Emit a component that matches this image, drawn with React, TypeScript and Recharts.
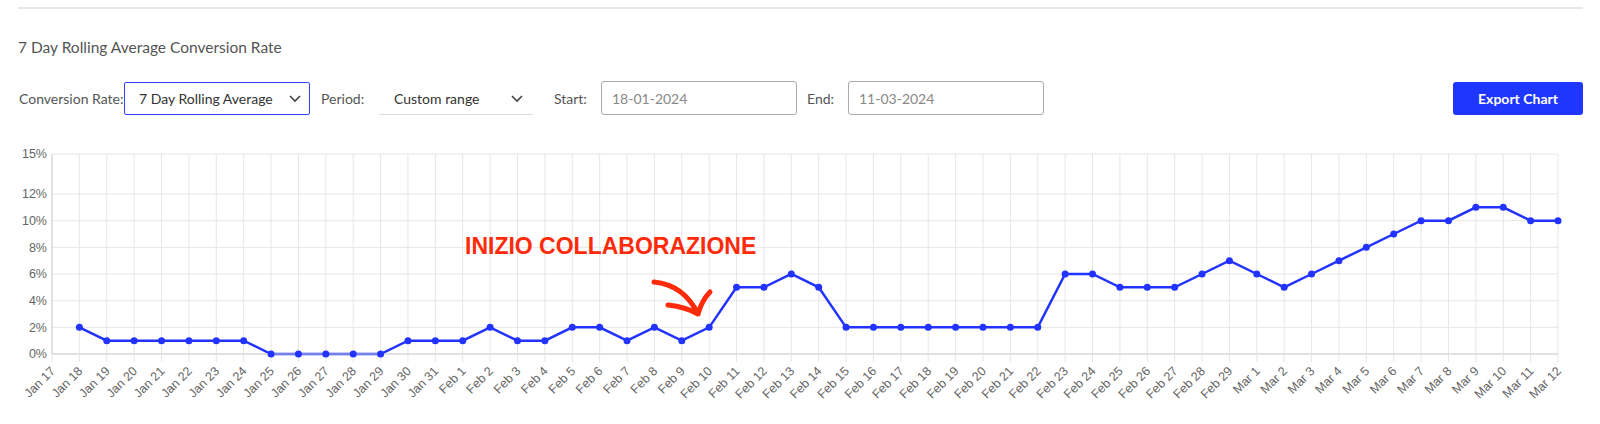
import React from "react";
import { LineChart, Line, XAxis, YAxis, CartesianGrid } from "recharts";

// categorie (giorni) e valori del tasso di conversione (%)
const days = [
  "Jan 17", "Jan 18", "Jan 19", "Jan 20", "Jan 21", "Jan 22", "Jan 23", "Jan 24",
  "Jan 25", "Jan 26", "Jan 27", "Jan 28", "Jan 29", "Jan 30", "Jan 31",
  "Feb 1", "Feb 2", "Feb 3", "Feb 4", "Feb 5", "Feb 6", "Feb 7", "Feb 8", "Feb 9",
  "Feb 10", "Feb 11", "Feb 12", "Feb 13", "Feb 14", "Feb 15", "Feb 16", "Feb 17",
  "Feb 18", "Feb 19", "Feb 20", "Feb 21", "Feb 22", "Feb 23", "Feb 24", "Feb 25",
  "Feb 26", "Feb 27", "Feb 28", "Feb 29",
  "Mar 1", "Mar 2", "Mar 3", "Mar 4", "Mar 5", "Mar 6", "Mar 7", "Mar 8", "Mar 9",
  "Mar 10", "Mar 11", "Mar 12",
];

const rate: (number | null)[] = [
  null, 2, 1, 1, 1, 1, 1, 1, 0, 0, 0, 0, 0, 1, 1,
  1, 2, 1, 1, 2, 2, 1, 2, 1, 2, 5, 5, 6, 5, 2, 2, 2, 2, 2, 2, 2, 2, 6, 6, 5, 5, 5, 6, 7,
  6, 5, 6, 7, 8, 9, 10, 10, 11, 11, 10, 10,
];

const yTicks = [0, 2, 4, 6, 8, 10, 12, 15];

const chartData = days.map((d, i) => ({ day: d, rate: rate[i] }));

const BLUE = "#2233ff";
const AXIS_FONT = "'Liberation Sans', Arial, sans-serif";
const labelStyle: React.CSSProperties = {
  position: "absolute",
  top: 90,
  fontSize: 14,
  color: "#555",
  lineHeight: "18px",
};

const Chevron = ({ left }: { left: number }) => (
  <svg style={{ position: "absolute", left, top: 94 }} width={12} height={10}>
    <path d="M1,2 L6,7 L11,2" fill="none" stroke="#444" strokeWidth={1.6} />
  </svg>
);

const DayTick = (props: any) => {
  const { x, y, payload } = props;
  return (
    <g transform={`translate(${x + 1},${y + 7})`}>
      <text
        x={0}
        y={0}
        dy={4}
        textAnchor="end"
        transform="rotate(-45)"
        fill="#666"
        fontSize={12.5}
        fontFamily={AXIS_FONT}
      >
        {payload.value}
      </text>
    </g>
  );
};

export default function App() {
  return (
    <div
      style={{
        position: "relative",
        width: 1600,
        height: 424,
        overflow: "hidden",
        background: "#fff",
        fontFamily: "Lato, 'Open Sans', sans-serif",
      }}
    >
      <style>{`body{margin:0}`}</style>

      <div style={{ position: "absolute", left: 18, top: 7, width: 1565, height: 2, background: "#e8e8e8" }} />

      <div style={{ position: "absolute", left: 18, top: 38, fontSize: 15.5, color: "#555" }}>
        7 Day Rolling Average Conversion Rate
      </div>

      <div style={{ ...labelStyle, left: 19 }}>Conversion Rate:</div>
      <div
        style={{
          position: "absolute",
          left: 124,
          top: 82,
          width: 184,
          height: 31,
          border: "1px solid #3344ff",
          borderRadius: 2,
        }}
      />
      <div style={{ ...labelStyle, left: 139, color: "#333" }}>7 Day Rolling Average</div>
      <Chevron left={289} />

      <div style={{ ...labelStyle, left: 321 }}>Period:</div>
      <div
        style={{
          position: "absolute",
          left: 379,
          top: 82,
          width: 154,
          height: 32,
          borderBottom: "1px solid #ddd",
        }}
      />
      <div style={{ ...labelStyle, left: 394, color: "#333" }}>Custom range</div>
      <Chevron left={511} />

      <div style={{ ...labelStyle, left: 554 }}>Start:</div>
      <div
        style={{
          position: "absolute",
          left: 601,
          top: 81,
          width: 194,
          height: 32,
          border: "1px solid #aaa",
          borderRadius: 3,
        }}
      />
      <div style={{ ...labelStyle, left: 612, color: "#888" }}>18-01-2024</div>

      <div style={{ ...labelStyle, left: 807 }}>End:</div>
      <div
        style={{
          position: "absolute",
          left: 848,
          top: 81,
          width: 194,
          height: 32,
          border: "1px solid #aaa",
          borderRadius: 3,
        }}
      />
      <div style={{ ...labelStyle, left: 859, color: "#888" }}>11-03-2024</div>

      <div
        style={{
          position: "absolute",
          left: 1453,
          top: 82,
          width: 130,
          height: 33,
          background: "#1f36ff",
          borderRadius: 3,
          color: "#fff",
          fontWeight: 700,
          fontSize: 14,
          lineHeight: "33px",
          textAlign: "center",
        }}
      >
        Export Chart
      </div>

      <div style={{ position: "absolute", left: 0, top: 140 }}>
        <LineChart
          width={1600}
          height={284}
          data={chartData}
          margin={{ top: 14, right: 42, bottom: 0, left: 0 }}
        >
          <CartesianGrid stroke="#e6e6e6" />
          <XAxis
            dataKey="day"
            interval={0}
            height={70}
            tick={<DayTick />}
            tickSize={8}
            tickMargin={0}
            tickLine={{ stroke: "#e6e6e6" }}
            axisLine={{ stroke: "#cfcfcf" }}
          />
          <YAxis
            width={52}
            domain={[0, 15]}
            ticks={yTicks}
            tickFormatter={(v: number) => `${v}%`}
            tickLine={false}
            tickSize={3}
            tickMargin={2}
            axisLine={{ stroke: "#cfcfcf" }}
            tick={{ fill: "#666", fontSize: 12.5, fontFamily: AXIS_FONT }}
          />
          <Line
            type="linear"
            dataKey="rate"
            stroke={BLUE}
            strokeWidth={2.5}
            dot={{ r: 3.5, fill: BLUE, stroke: BLUE, strokeWidth: 0 }}
            isAnimationActive={false}
          />
        </LineChart>
      </div>

      <div
        style={{
          position: "absolute",
          left: 465,
          top: 233,
          fontFamily: AXIS_FONT,
          fontWeight: 700,
          fontSize: 23,
          color: "#ff2a0a",
          whiteSpace: "nowrap",
        }}
      >
        INIZIO COLLABORAZIONE
      </div>
      <svg style={{ position: "absolute", left: 0, top: 0 }} width={1600} height={424} pointerEvents="none">
        <path
          d="M654,282 Q684,285 698,314 M668,305 Q686,307 698,314 Q702,300 710,292"
          fill="none"
          stroke="#ff2a0a"
          strokeWidth={5}
          strokeLinecap="round"
          strokeLinejoin="round"
        />
      </svg>
    </div>
  );
}
